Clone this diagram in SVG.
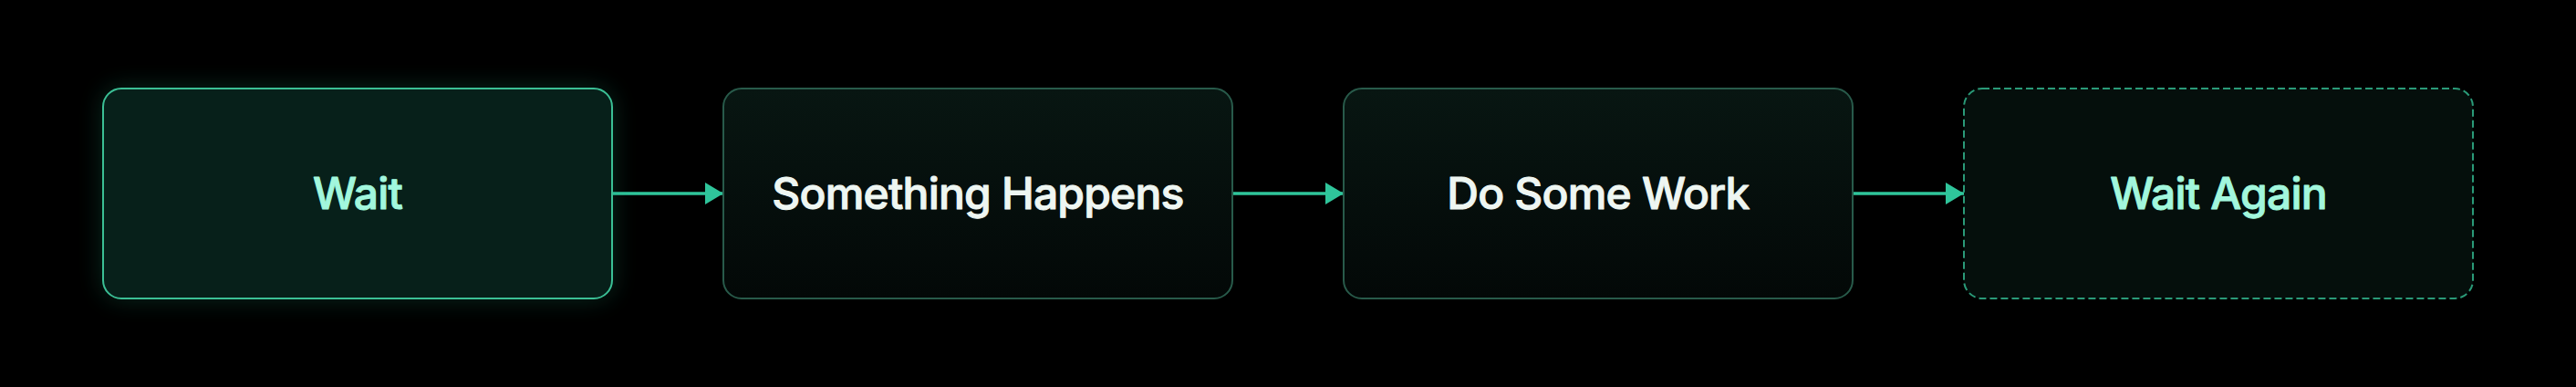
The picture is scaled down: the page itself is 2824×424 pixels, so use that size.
<svg xmlns="http://www.w3.org/2000/svg" width="2824" height="424" viewBox="0 0 2824 424">
  <defs>
    <style>
      .box { stroke-width: 2; }
      .lbl { font-family: Inter, "Liberation Sans", sans-serif; font-size: 48px; font-weight: 500; text-anchor: middle; letter-spacing: -0.8px; stroke-width: 1; stroke-linejoin: round; }
      .mint { fill: #a2f7dd; stroke: #a2f7dd; }
      .white { fill: #eef6f2; stroke: #eef6f2; }
      .conn { stroke: #2fc59b; stroke-width: 3.5; fill: none; }
    </style>
    <linearGradient id="gDark" x1="0" y1="0" x2="0" y2="1">
      <stop offset="0" stop-color="#081612"/>
      <stop offset="1" stop-color="#030807"/>
    </linearGradient>
    <filter id="glow" x="-20%" y="-40%" width="140%" height="180%">
      <feGaussianBlur stdDeviation="14"/>
    </filter>
    <marker id="arrow" viewBox="0 0 20 24" refX="20" refY="12" markerWidth="20" markerHeight="24" markerUnits="userSpaceOnUse" orient="auto">
      <path d="M0,0 L20,12 L0,24 Z" fill="#2fc59b"/>
    </marker>
  </defs>
  <rect width="2824" height="424" fill="#000000"/>

  <g id="connectors">
    <line class="conn" x1="672" y1="212" x2="793" y2="212" marker-end="url(#arrow)"/>
    <line class="conn" x1="1352" y1="212" x2="1473" y2="212" marker-end="url(#arrow)"/>
    <line class="conn" x1="2032" y1="212" x2="2153" y2="212" marker-end="url(#arrow)"/>
  </g>

  <g id="node-wait">
    <rect x="113" y="97" width="558" height="230" rx="20" fill="#1d8f6c" opacity="0.3" filter="url(#glow)"/>
    <rect class="box" x="113" y="97" width="558" height="230" rx="20" fill="#07201a" stroke="#3bbf95"/>
    <text class="lbl mint" x="392" y="229">Wait</text>
  </g>

  <g id="node-something-happens">
    <rect class="box" x="793" y="97" width="558" height="230" rx="20" fill="url(#gDark)" stroke="#285a4a"/>
    <text class="lbl white" x="1072" y="229">Something Happens</text>
  </g>

  <g id="node-do-some-work">
    <rect class="box" x="1473" y="97" width="558" height="230" rx="20" fill="url(#gDark)" stroke="#285a4a"/>
    <text class="lbl white" x="1752" y="229">Do Some Work</text>
  </g>

  <g id="node-wait-again">
    <rect class="box" x="2153" y="97" width="558" height="230" rx="20" fill="#050f0c" stroke="#2a9a78" stroke-dasharray="8 4"/>
    <text class="lbl mint" x="2432" y="229">Wait Again</text>
  </g>
</svg>
